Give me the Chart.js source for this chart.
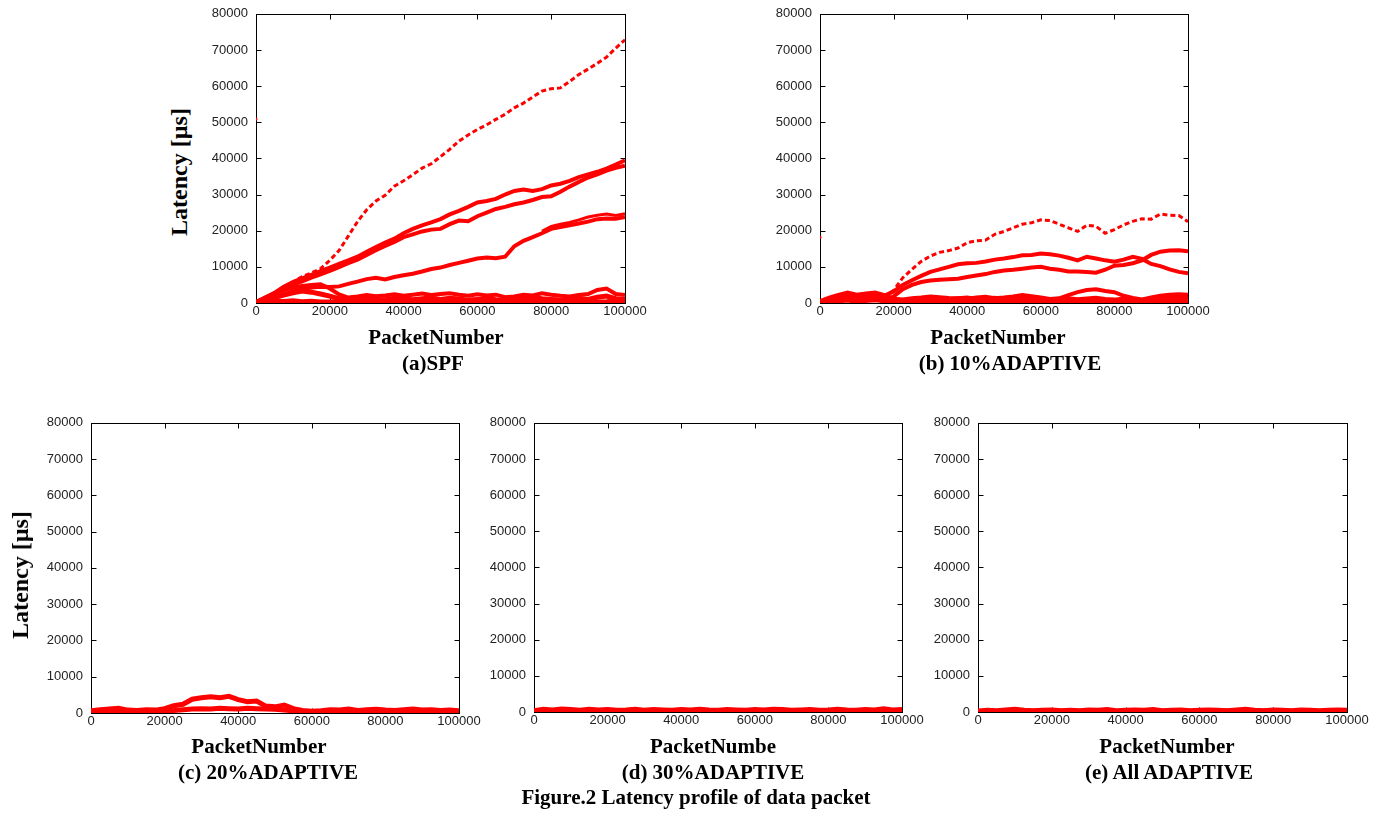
<!DOCTYPE html>
<html>
<head>
<meta charset="utf-8">
<script src="https://cdn.jsdelivr.net/npm/chart.js@4/dist/chart.umd.min.js"></script>
<style>
  body { margin: 0; background: #fff; width: 1384px; height: 813px; position: relative; overflow: hidden; }
  .panel { position: absolute; line-height: 0; }
  .lbl { position: absolute; transform: translate(-50%, -50%); white-space: nowrap; line-height: 1;
         font-family: "Liberation Serif", "Times New Roman", serif; font-weight: bold; font-size: 21px; color: #000; }
  .ylab { font-size: 24px; transform: translate(-50%, -50%) rotate(-90deg); }
</style>
</head>
<body>
<div id="figure"></div>
<script>
// packet number grid (x), shared by all traces
var PACKETS = [0, 2500, 5000, 7500, 10000, 12500, 15000, 17500, 20000, 22500, 25000, 27500, 30000, 32500, 35000, 37500,
  40000, 42500, 45000, 47500, 50000, 52500, 55000, 57500, 60000, 62500, 65000, 67500, 70000, 72500, 75000, 77500,
  80000, 82500, 85000, 87500, 90000, 92500, 95000, 97500, 100000];
var X_TICKS = [0, 20000, 40000, 60000, 80000, 100000];
var Y_TICKS = [0, 10000, 20000, 30000, 40000, 50000, 60000, 70000, 80000];

// (a) SPF  -- latency in us
var SPF_TOP = [300, 1200, 2500, 4200, 5800, 7300, 8300, 9500, 11800, 14500, 18500, 22500, 25800, 28200, 29800, 32300, 33800, 35500, 37300, 38500, 40500, 42500, 44800, 46500, 48000, 49300, 50800, 52200, 54000, 55300, 57000, 58600, 59300, 59500, 61300, 63200, 64700, 66300, 68000, 70500, 72800];
var SPF_A = [200, 1500, 2800, 4500, 5800, 6800, 7800, 8800, 9800, 10800, 11800, 12800, 14200, 15500, 16700, 17800, 19300, 20500, 21500, 22300, 23200, 24500, 25500, 26600, 27800, 28200, 28800, 30000, 31000, 31400, 31000, 31500, 32500, 33000, 33800, 34800, 35600, 36300, 37200, 38300, 39500];
var SPF_B = [100, 1200, 2400, 3900, 5000, 6000, 7000, 7900, 8900, 9900, 11000, 12000, 13300, 14600, 15800, 16900, 18200, 19000, 19800, 20300, 20500, 21800, 22800, 22600, 24000, 25000, 26000, 26600, 27300, 27800, 28500, 29300, 29500, 30800, 32200, 33500, 34700, 35600, 36600, 37400, 38000];
var SPF_C = [200, 900, 1600, 2400, 3200, 3800, 4300, 4500, 4400, 4600, 5300, 5900, 6600, 7000, 6500, 7200, 7700, 8100, 8700, 9400, 9800, 10500, 11100, 11700, 12300, 12600, 12400, 12800, 15700, 17200, 18200, 19300, 20500, 21000, 21500, 22000, 22500, 23200, 23400, 23300, 23800];
var SPF_C2 = [19800, 21200, 21800, 22300, 23000, 23800, 24300, 24600, 24200, 24700]; // from 77500
var SPF_LOW1 = [300, 1500, 2600, 3500, 4200, 4700, 5000, 5200, 4000, 2400, 1500, 1800, 2200, 1900, 2100, 2400, 2000, 2300, 2600, 2200, 2500, 2700, 2300, 2000, 2400, 2100, 2300, 1600, 1800, 2300, 2100, 2700, 2300, 2000, 1800, 2200, 2500, 3600, 4000, 2500, 2200];
var SPF_LOW2 = [100, 800, 1500, 2200, 2800, 3300, 3000, 2500, 1900, 1200, 800, 900, 1200, 1000, 900, 1300, 1100, 900, 1200, 1400, 1000, 1300, 1100, 800, 1000, 1200, 900, 700, 1000, 1300, 1500, 1200, 1000, 800, 1100, 1300, 1000, 1600, 1900, 1200, 1000];
var SPF_LOW3 = [0, 300, 500, 400, 600, 350, 450, 300, 250, 400, 350, 300, 450, 500, 350, 300, 400, 550, 350, 300, 450, 400, 300, 350, 500, 400, 250, 300, 450, 350, 300, 400, 500, 350, 300, 400, 450, 300, 350, 500, 400];
var SPF_STRAY = [0, 50900];

// (b) 10% ADAPTIVE
var AD10_TOP = [1500, 3500, 7000, 9300, 11500, 13000, 14000, 14500, 15200, 16700, 17200, 17400, 19000, 19800, 20800, 21800, 22200, 23000, 22800, 21800, 20800, 19800, 21500, 21200, 19300, 20300, 21600, 22600, 23300, 23200, 24600, 24300, 24200, 22500]; // from 17500
var AD10_MID1 = [1500, 2000, 3200, 5000, 6300, 7500, 8600, 9300, 10000, 10700, 11000, 11100, 11500, 12000, 12300, 12700, 13200, 13300, 13700, 13500, 13100, 12500, 11800, 12800, 12300, 11800, 11400, 12000, 12800, 12200, 10800, 10200, 9300, 8600, 8200]; // from 15000
var AD10_MID2 = [800, 1800, 3800, 5000, 5800, 6200, 6400, 6600, 6700, 7200, 7600, 8000, 8600, 9000, 9200, 9500, 9800, 10000, 9500, 9200, 8700, 8700, 8600, 8400, 9200, 10300, 10500, 11000, 11800, 13300, 14200, 14500, 14600, 14300]; // from 17500
var AD10_LOW1 = [500, 1500, 2200, 2900, 2300, 2600, 2900, 2200, 1200, 1000, 1300, 1500, 1800, 1600, 1400, 1300, 1200, 1500, 1700, 1300, 1500, 1800, 2200, 1900, 1500, 1100, 1300, 2200, 3000, 3600, 3800, 3300, 3000, 2000, 1400, 1000, 1500, 2000, 2300, 2400, 2300];
var AD10_LOW2 = [200, 900, 1400, 1800, 1500, 1700, 2000, 1400, 800, 600, 900, 1100, 1300, 1000, 900, 1200, 1400, 1000, 1100, 1300, 900, 1200, 1000, 1400, 1100, 800, 1000, 1200, 900, 1100, 1300, 1000, 800, 1100, 900, 600, 1000, 1400, 1700, 1500, 1600];
var AD10_LOW3 = [0, 400, 600, 800, 500, 700, 900, 600, 300, 200, 400, 300, 500, 400, 300, 350, 450, 300, 400, 250, 350, 450, 300, 400, 350, 250, 300, 400, 350, 300, 450, 350, 250, 300, 400, 300, 350, 500, 450, 400, 500];
var AD10_STRAY = [0, 18200];

// (c) 20% ADAPTIVE
var AD20_BUMP = [600, 900, 1100, 1300, 800, 700, 900, 800, 1200, 2000, 2400, 3800, 4200, 4500, 4200, 4600, 3700, 3100, 3300, 1900, 1700, 2200, 1200, 700, 500, 600, 900, 800, 1100, 700, 900, 1000, 800, 700, 900, 1100, 800, 900, 700, 800, 600];
var AD20_LOW = [300, 500, 400, 600, 400, 300, 500, 400, 600, 700, 900, 1100, 1200, 1100, 1300, 1200, 1100, 1300, 1200, 1100, 1000, 800, 600, 400, 300, 400, 500, 300, 400, 500, 400, 300, 500, 400, 300, 400, 500, 400, 300, 400, 300];

// (d) 30% ADAPTIVE
var AD30_TOP = [500, 900, 700, 1000, 800, 600, 900, 700, 800, 600, 700, 900, 600, 800, 700, 600, 800, 700, 900, 700, 600, 800, 700, 600, 800, 700, 900, 800, 600, 700, 800, 600, 700, 900, 700, 600, 800, 700, 1000, 700, 800];
var AD30_LOW = [100, 200, 300, 200, 250, 150, 300, 200, 250, 150, 200, 300, 250, 200, 150, 250, 300, 200, 150, 250, 200, 300, 250, 150, 200, 250, 300, 200, 150, 250, 200, 300, 150, 250, 200, 150, 300, 250, 200, 150, 200];

// (e) All ADAPTIVE
var ALL_TOP = [400, 600, 500, 700, 900, 600, 500, 600, 700, 500, 600, 500, 700, 600, 800, 500, 600, 700, 600, 800, 500, 600, 700, 500, 600, 700, 600, 500, 700, 900, 600, 500, 700, 600, 500, 700, 600, 500, 600, 700, 600];
var ALL_LOW = [100, 200, 150, 250, 200, 150, 200, 250, 150, 200, 250, 200, 150, 200, 250, 150, 200, 250, 200, 150, 200, 250, 150, 200, 250, 200, 150, 250, 200, 150, 200, 250, 200, 150, 200, 250, 150, 200, 250, 200, 150];

var RED = 'rgb(255,0,0)';
var PAD_L = 62, PAD_T = 10, PAD_R = 26, PAD_B = 22;

(function(Window) {
  var App = {
    root: document.getElementById('figure'),

    trace: function(ys, from, width, dash) {
      var start = PACKETS.indexOf(from || 0);
      return {
        data: ys.map(function(v, i) { return { x: PACKETS[start + i], y: v }; }),
        showLine: true, borderColor: RED, backgroundColor: RED,
        borderWidth: width || 3, borderDash: dash || [], pointRadius: 0, tension: 0
      };
    },

    stray: function(p) {
      return { data: [{ x: p[0], y: p[1] }], showLine: false, pointRadius: 1.5, backgroundColor: RED, borderColor: RED, borderWidth: 0 };
    },

    // black box with inward ticks on every side (gnuplot look)
    frame: {
      id: 'frame',
      beforeDatasetsDraw: function(chart) {
        var ctx = chart.ctx, a = chart.chartArea, sx = chart.scales.x, sy = chart.scales.y;
        ctx.save();
        ctx.strokeStyle = '#000';
        ctx.lineWidth = 1;
        var l = Math.round(a.left) + 0.5, r = Math.round(a.right) + 0.5;
        var t = Math.round(a.top) + 0.5, b = Math.round(a.bottom) + 0.5;
        ctx.strokeRect(l, t, r - l, b - t);
        ctx.beginPath();
        Y_TICKS.forEach(function(v) {
          var py = Math.round(sy.getPixelForValue(v)) + 0.5;
          ctx.moveTo(l, py); ctx.lineTo(l + 5, py);
          ctx.moveTo(r, py); ctx.lineTo(r - 5, py);
        });
        X_TICKS.forEach(function(v) {
          var px = Math.round(sx.getPixelForValue(v)) + 0.5;
          ctx.moveTo(px, b); ctx.lineTo(px, b - 5);
          ctx.moveTo(px, t); ctx.lineTo(px, t + 5);
        });
        ctx.stroke();
        ctx.restore();
      }
    },

    label: function(text, x, y, cls) {
      var d = document.createElement('div');
      d.className = 'lbl' + (cls ? ' ' + cls : '');
      d.style.left = x + 'px';
      d.style.top = y + 'px';
      d.textContent = text;
      document.body.appendChild(d);
    },

    panel: function(box, datasets) {
      var w = PAD_L + (box.r - box.l) + PAD_R, h = PAD_T + (box.b - box.t) + PAD_B;
      var wrap = document.createElement('div');
      wrap.className = 'panel';
      wrap.style.width = w + 'px';
      wrap.style.height = h + 'px';
      var cv = document.createElement('canvas');
      cv.width = w; cv.height = h;
      wrap.appendChild(cv);
      App.root.appendChild(wrap);
      var tickFont = { family: '"Liberation Sans", Arial, sans-serif', size: 13 };
      var noGrid = { display: false, drawTicks: false, tickLength: 0 };
      var chart = new Chart(cv, {
        type: 'scatter',
        data: { datasets: datasets },
        plugins: [App.frame],
        options: {
          responsive: false, maintainAspectRatio: false, animation: false, devicePixelRatio: 1,
          layout: { padding: { top: PAD_T, right: PAD_R, left: 0, bottom: 0 } },
          plugins: { legend: { display: false }, tooltip: { enabled: false } },
          scales: {
            x: {
              type: 'linear', min: 0, max: 100000,
              grid: noGrid, border: { display: false },
              afterFit: function(s) { s.height = PAD_B; },
              afterBuildTicks: function(s) { s.ticks = X_TICKS.map(function(v) { return { value: v }; }); },
              ticks: { padding: 1, color: '#222', font: tickFont, maxRotation: 0, autoSkip: false,
                callback: function(v) { return String(v); } }
            },
            y: {
              type: 'linear', min: 0, max: 80000,
              grid: noGrid, border: { display: false },
              afterFit: function(s) { s.width = PAD_L; },
              afterBuildTicks: function(s) { s.ticks = Y_TICKS.map(function(v) { return { value: v }; }); },
              ticks: { padding: 8, color: '#222', font: tickFont, autoSkip: false,
                callback: function(v) { return String(v); } }
            }
          }
        }
      });
      // line the plot box up with the reference frame
      var a = chart.chartArea;
      var nw = Math.round(a.left + (box.r - box.l) + (w - a.right));
      var nh = Math.round(a.top + (box.b - box.t) + (h - a.bottom));
      if (nw !== w || nh !== h) {
        wrap.style.width = nw + 'px';
        wrap.style.height = nh + 'px';
        chart.resize(nw, nh);
      }
      a = chart.chartArea;
      wrap.style.left = Math.round(box.l - a.left) + 'px';
      wrap.style.top = Math.round(box.t - a.top) + 'px';
    },

    init: function() {
      var T = App.trace;
      App.panel({ l: 256, r: 625, t: 14, b: 303 }, [
        T(SPF_LOW3, 0, 5), T(SPF_LOW2, 0, 5), T(SPF_LOW1, 0, 4),
        T(SPF_C, 0, 4), T(SPF_C2, 77500, 3),
        T(SPF_B, 0, 4), T(SPF_A, 0, 4),
        T(SPF_TOP, 0, 3, [5, 3]), App.stray(SPF_STRAY)
      ]);
      App.panel({ l: 820, r: 1188, t: 14, b: 303 }, [
        T(AD10_LOW3, 0, 5), T(AD10_LOW2, 0, 5), T(AD10_LOW1, 0, 4),
        T(AD10_MID2, 17500, 4), T(AD10_MID1, 15000, 4),
        T(AD10_TOP, 17500, 3, [5, 3]), App.stray(AD10_STRAY)
      ]);
      App.panel({ l: 91, r: 459, t: 423, b: 713 }, [ T(AD20_LOW, 0, 5), T(AD20_BUMP, 0, 5) ]);
      App.panel({ l: 534, r: 902, t: 423, b: 712 }, [ T(AD30_LOW, 0, 5), T(AD30_TOP, 0, 4) ]);
      App.panel({ l: 978, r: 1347, t: 423, b: 712 }, [ T(ALL_LOW, 0, 5), T(ALL_TOP, 0, 4) ]);

      App.label('Latency [\u00b5s]', 179, 172, 'ylab');
      App.label('PacketNumber', 436, 337);
      App.label('(a)SPF', 433, 363);
      App.label('PacketNumber', 998, 337);
      App.label('(b) 10%ADAPTIVE', 1010, 363);
      App.label('Latency [\u00b5s]', 20, 575, 'ylab');
      App.label('PacketNumber', 259, 746);
      App.label('(c) 20%ADAPTIVE', 268, 772);
      App.label('PacketNumbe', 713, 746);
      App.label('(d) 30%ADAPTIVE', 713, 772);
      App.label('PacketNumber', 1167, 746);
      App.label('(e) All ADAPTIVE', 1169, 772);
      App.label('Figure.2 Latency profile of data packet', 696, 797);
    }
  };
  Window.App = App;
})(window);

App.init();
</script>
</body>
</html>
